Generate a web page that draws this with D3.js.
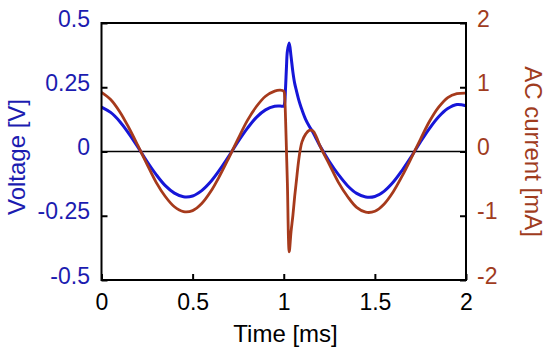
<!DOCTYPE html>
<html>
<head>
<meta charset="utf-8">
<script src="https://cdn.jsdelivr.net/npm/d3@7"></script>
<style>
  html, body { margin: 0; padding: 0; background: #fff; }
  svg { display: block; font-family: "Liberation Sans", Arial, sans-serif; }
</style>
</head>
<body>
<svg id="chart" width="550" height="355"></svg>
<script>
// ---- data ----
const time = [0, 0.05, 0.1, 0.15, 0.2, 0.25, 0.3, 0.35, 0.4, 0.45, 0.5, 0.55, 0.6, 0.65, 0.7, 0.75, 0.8, 0.85, 0.9, 0.95,
  0.98, 1.0, 1.005, 1.01, 1.015, 1.02, 1.03, 1.04, 1.05, 1.06, 1.07, 1.08, 1.09, 1.1, 1.12, 1.14, 1.16, 1.18, 1.2,
  1.25, 1.3, 1.35, 1.4, 1.45, 1.5, 1.55, 1.6, 1.65, 1.7, 1.75, 1.8, 1.85, 1.9, 1.95, 2.0];
const voltage = [0.173, 0.152, 0.117, 0.070, 0.017, -0.039, -0.090, -0.133, -0.162, -0.176, -0.173, -0.152, -0.117, -0.070, -0.017, 0.039, 0.090, 0.133, 0.162, 0.176,
  0.177, 0.177, 0.19, 0.25, 0.33, 0.39, 0.422, 0.37, 0.31, 0.265, 0.235, 0.207, 0.183, 0.162, 0.125, 0.098, 0.075, 0.047, 0.02,
  -0.039, -0.090, -0.133, -0.163, -0.177, -0.175, -0.155, -0.120, -0.073, -0.020, 0.037, 0.090, 0.135, 0.167, 0.183, 0.178];
const current = [0.92, 0.81, 0.62, 0.37, 0.09, -0.20, -0.48, -0.70, -0.86, -0.936, -0.92, -0.81, -0.62, -0.37, -0.09, 0.20, 0.48, 0.70, 0.86, 0.94,
  0.955, 0.94, 0.85, 0.5, 0.0, -0.5, -1.56, -1.25, -1.0, -0.7, -0.44, -0.18, 0.02, 0.15, 0.27, 0.33, 0.32, 0.22, 0.08,
  -0.20, -0.48, -0.70, -0.87, -0.945, -0.93, -0.82, -0.63, -0.38, -0.10, 0.19, 0.47, 0.69, 0.84, 0.90, 0.91];
const xTicks = [0, 0.5, 1, 1.5, 2];
const xTickLabels = ["0", "0.5", "1", "1.5", "2"];
const vTicks = [-0.5, -0.25, 0, 0.25, 0.5];
const vTickLabels = ["-0.5", "-0.25", "0", "0.25", "0.5"];
const iTicks = [-2, -1, 0, 1, 2];
const iTickLabels = ["-2", "-1", "0", "1", "2"];
const xTitle = "Time [ms]";
const vTitle = "Voltage [V]";
const iTitle = "AC current [mA]";

// ---- layout ----
const L = 101.5, R = 466, T = 23, B = 280;
const blue = "#1616d8", brown = "#a63a1c";
const blueText = "#1c1cb0", brownText = "#a03c1e";

const svg = d3.select("#chart");
const x = d3.scaleLinear().domain([0, 2]).range([L, R]);
const yV = d3.scaleLinear().domain([-0.5, 0.5]).range([B, T]);
const yI = d3.scaleLinear().domain([-2, 2]).range([B, T]);

// zero line
svg.append("line").attr("x1", L).attr("x2", R).attr("y1", yV(0)).attr("y2", yV(0))
  .attr("stroke", "#000").attr("stroke-width", 1.6);

// lines
const curve = d3.curveCatmullRom.alpha(0.5);
const vLine = d3.line().x((d, i) => x(time[i])).y(d => yV(d)).curve(curve);
const iLine = d3.line().x((d, i) => x(time[i])).y(d => yI(d)).curve(curve);
svg.append("path").attr("d", vLine(voltage)).attr("fill", "none")
  .attr("stroke", blue).attr("stroke-width", 3).attr("stroke-linejoin", "round");
svg.append("path").attr("d", iLine(current)).attr("fill", "none")
  .attr("stroke", brown).attr("stroke-width", 2.8).attr("stroke-linejoin", "round");

// frame
svg.append("rect").attr("x", L).attr("y", T).attr("width", R - L).attr("height", B - T)
  .attr("fill", "none").attr("stroke", "#000").attr("stroke-width", 2);

// axes
const fs = 23;
const gx = svg.append("g").attr("transform", `translate(0,${B})`)
  .call(d3.axisBottom(x).tickValues(xTicks).tickFormat((d, i) => xTickLabels[i]).tickSizeInner(-6).tickSizeOuter(0).tickPadding(13.5));
const gl = svg.append("g").attr("transform", `translate(${L},0)`)
  .call(d3.axisLeft(yV).tickValues(vTicks).tickFormat((d, i) => vTickLabels[i]).tickSizeInner(-6).tickSizeOuter(0).tickPadding(11.5));
const gr = svg.append("g").attr("transform", `translate(${R},0)`)
  .call(d3.axisRight(yI).tickValues(iTicks).tickFormat((d, i) => iTickLabels[i]).tickSizeInner(-6).tickSizeOuter(0).tickPadding(11));

[gx, gl, gr].forEach(g => {
  g.select(".domain").remove();
  g.selectAll(".tick line").attr("stroke", "#000").attr("stroke-width", 2);
  g.selectAll(".tick text").attr("font-size", fs).attr("font-family", "Liberation Sans, Arial, sans-serif");
});
gx.selectAll(".tick text").attr("fill", "#000").attr("dy", "0.71em");
gl.selectAll(".tick text").attr("fill", blueText).attr("dy", 3);
gr.selectAll(".tick text").attr("fill", brownText).attr("dy", 3);

// titles
svg.append("text").attr("x", 285.5).attr("y", 341.5).attr("text-anchor", "middle")
  .attr("font-size", 24).attr("fill", "#000").text(xTitle);
svg.append("text").attr("transform", "translate(25,157) rotate(-90)").attr("text-anchor", "middle")
  .attr("font-size", 24).attr("fill", blueText).text(vTitle);
svg.append("text").attr("transform", "translate(525,151.5) rotate(90)").attr("text-anchor", "middle")
  .attr("font-size", 24).attr("fill", brownText).text(iTitle);
</script>
</body>
</html>
